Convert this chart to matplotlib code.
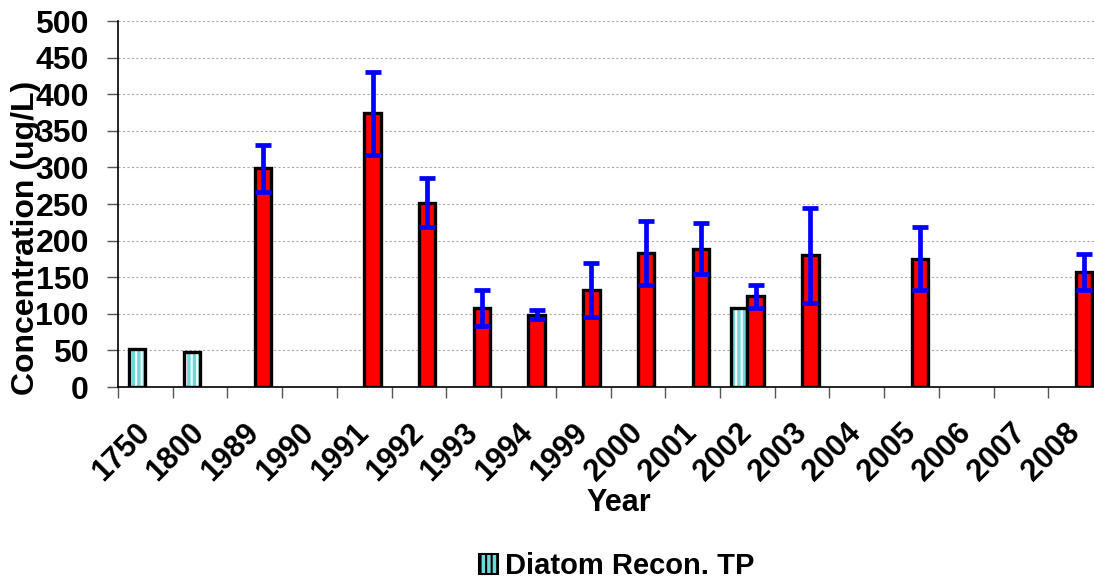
import matplotlib
matplotlib.use("Agg")
import matplotlib.pyplot as plt
from matplotlib.patches import Patch
import numpy as np

plt.rcParams['font.family'] = ['Liberation Sans', 'DejaVu Sans']
plt.rcParams['font.weight'] = 'bold'
plt.rcParams['hatch.linewidth'] = 1.5

years = ['1750', '1800', '1989', '1990', '1991', '1992', '1993', '1994', '1999',
         '2000', '2001', '2002', '2003', '2004', '2005', '2006', '2007', '2008']
diatom = [52, 48, np.nan, np.nan, np.nan, np.nan, np.nan, np.nan, np.nan,
          np.nan, np.nan, 108, np.nan, np.nan, np.nan, np.nan, np.nan, np.nan]
measured = [np.nan, np.nan, 299, np.nan, 374, 252, 108, 99, 133,
            183, 189, 124, 180, np.nan, 175, np.nan, np.nan, 157]
err_low = [0, 0, 32, 0, 57, 34, 24, 6, 37, 44, 35, 16, 65, 0, 43, 0, 0, 25]
err_high = [0, 0, 32, 0, 57, 34, 24, 6, 37, 44, 35, 15, 64, 0, 43, 0, 0, 25]

fig = plt.figure(figsize=(10.94, 5.79), dpi=100)
ax = fig.add_axes([0.1079, 0.3316, 0.9004, 0.6321])

x = np.arange(len(years))
w = 0.3

# diatom bars: cyan with white stripes, black outline on top
ax.bar(x - w, diatom, width=w, align='edge', color='#6fd9d9', edgecolor='white',
       hatch='|||', linewidth=0, zorder=2)
ax.bar(x - w, diatom, width=w, align='edge', fill=False, edgecolor='black',
       linewidth=2.4, zorder=3)

# measured bars
ax.bar(x, measured, width=w, align='edge', color='red', edgecolor='black',
       linewidth=2.4, zorder=3)
mask = ~np.isnan(measured)
ax.errorbar(x[mask] + w / 2, np.array(measured)[mask],
            yerr=[np.array(err_low)[mask], np.array(err_high)[mask]],
            fmt='none', ecolor='#0000ff', elinewidth=3.4, capsize=6, capthick=3.4, zorder=4)

ax.set_xlim(-0.5, len(years) - 0.5)
ax.set_ylim(0, 500)
ax.set_yticks(np.arange(0, 501, 50))
ax.yaxis.grid(True, color='#aaaaaa', linestyle=(0, (2, 2)), linewidth=0.8, zorder=0)
ax.set_axisbelow(True)

ax.set_xticks(x)
ax.set_xticklabels(years, rotation=45, ha='right', va='center', rotation_mode='anchor')
ax.set_xticks(np.arange(-0.5, len(years), 1), minor=True)
ax.tick_params(axis='x', which='major', length=0, labelsize=22, pad=30)
ax.tick_params(axis='x', which='minor', length=8, width=1, color='#555555')
ax.tick_params(axis='y', length=8, width=1, color='#555555', labelsize=23, pad=13)
for lab in ax.get_xticklabels() + ax.get_yticklabels():
    lab.set_fontweight('bold')

for s in ['top', 'right']:
    ax.spines[s].set_visible(False)
ax.spines['left'].set_linewidth(1.2)
ax.spines['bottom'].set_linewidth(1.2)

ax.set_ylabel('Concentration (ug/L)', fontsize=23, fontweight='bold', va='center')
ax.yaxis.set_label_coords(-0.0935, 0.407)
ax.set_xlabel('Year', fontsize=22, fontweight='bold', va='center')
ax.xaxis.set_label_coords(0.508, -0.317)

handle = Patch(facecolor='#6fd9d9', edgecolor='black', hatch='|||', linewidth=1.5)
leg = fig.legend([handle], ['Diatom Recon. TP'], loc='center',
                 bbox_to_anchor=(0.564, 0.022), frameon=False,
                 prop={'size': 21, 'weight': 'bold'}, handlelength=0.65,
                 handleheight=0.65, handletextpad=0.25, borderpad=0)

fig.savefig('out.png', dpi=100)
